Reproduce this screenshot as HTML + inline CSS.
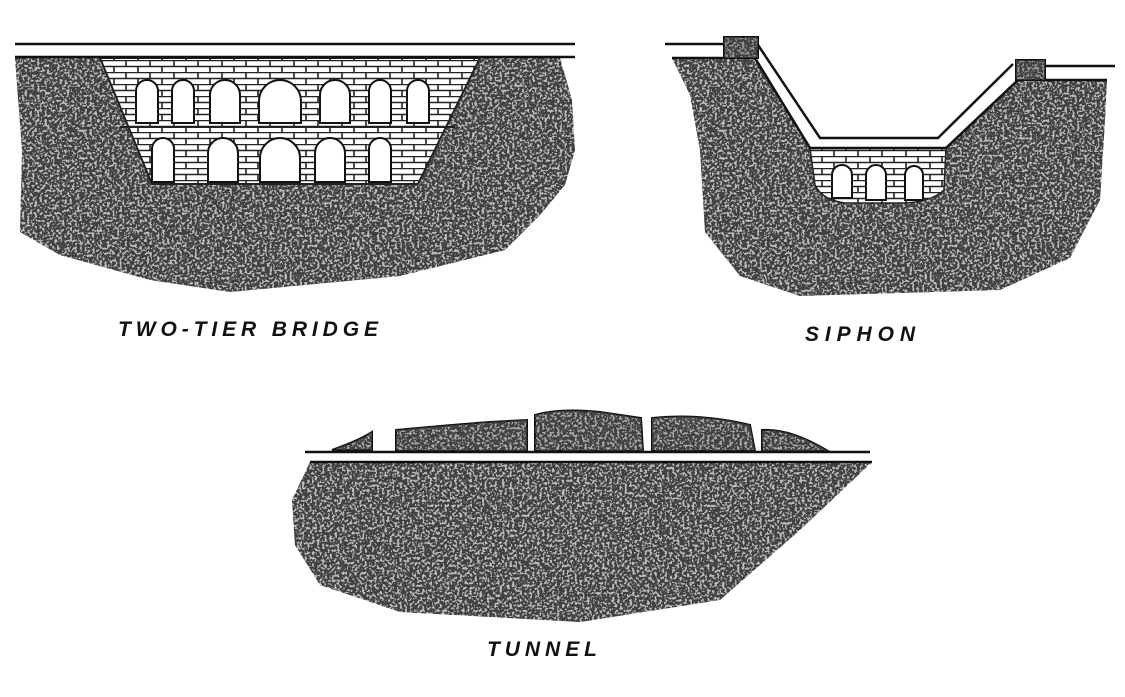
<!DOCTYPE html>
<html><head><style>
html,body{margin:0;padding:0;background:#fff;}
svg{display:block}
text{font-family:"Liberation Sans",sans-serif;font-weight:bold;font-style:italic;font-size:21px;fill:#111}
</style></head><body>
<svg width="1125" height="697" viewBox="0 0 1125 697" xmlns="http://www.w3.org/2000/svg">
<defs>
<filter id="st" filterUnits="userSpaceOnUse" x="0" y="0" width="1125" height="697">
<feTurbulence type="fractalNoise" baseFrequency="0.4" numOctaves="2" seed="4" result="n"/>
<feColorMatrix in="n" type="matrix" values="0 0 0 0 0.05  0 0 0 0 0.05  0 0 0 0 0.05  -14 0 0 0 8.3" result="d"/>
<feComposite in="d" in2="SourceGraphic" operator="in"/>
</filter>
<pattern id="brick" width="24" height="12" patternUnits="userSpaceOnUse">
<rect width="24" height="12" fill="#fff"/>
<path d="M0 0.5H24M0 6.5H24M6 0V6M18 6V12" stroke="#222" stroke-width="1.6"/>
</pattern>
</defs>

<!-- BRIDGE -->
<g>
<path id="bg1" d="M15 58 L560 58 L572 100 L575 150 L565 185 L540 215 L505 250 L400 276 L230 292 L150 280 L60 255 L20 232 L22 150 Z" fill="#5a5a5a" opacity="0.4"/>
<path d="M15 58 L560 58 L572 100 L575 150 L565 185 L540 215 L505 250 L400 276 L230 292 L150 280 L60 255 L20 232 L22 150 Z" fill="#000" filter="url(#st)"/>
<path d="M100 58 L480 58 L418 184 L152 184 Z" fill="url(#brick)" stroke="#222" stroke-width="2"/>
<line x1="120" y1="127" x2="455" y2="127" stroke="#222" stroke-width="2"/>
<g fill="#fff" stroke="#111" stroke-width="2">
<path d="M136 123V91a11 11 0 0 1 22 0V123Z"/>
<path d="M172 123V91a11 11 0 0 1 22 0V123Z"/>
<path d="M210 123V95a15 15 0 0 1 30 0V123Z"/>
<path d="M259 123V101a21 21 0 0 1 42 0V123Z"/>
<path d="M320 123V95a15 15 0 0 1 30 0V123Z"/>
<path d="M369 123V91a11 11 0 0 1 22 0V123Z"/>
<path d="M407 123V91a11 11 0 0 1 22 0V123Z"/>
<path d="M152 182V149a11 11 0 0 1 22 0V182Z"/>
<path d="M208 182V153a15 15 0 0 1 30 0V182Z"/>
<path d="M260 182V158a20 20 0 0 1 40 0V182Z"/>
<path d="M315 182V153a15 15 0 0 1 30 0V182Z"/>
<path d="M369 182V149a11 11 0 0 1 22 0V182Z"/>
</g>
<line x1="15" y1="44" x2="575" y2="44" stroke="#111" stroke-width="2.5"/>
<line x1="15" y1="57" x2="575" y2="57" stroke="#111" stroke-width="2.5"/>
</g>

<!-- SIPHON -->
<g>
<path d="M672 58 L755 58 L810 148 L946 148 L1018 80 L1107 80 L1105 120 L1100 200 L1070 258 L1000 290 L800 296 L740 276 L705 232 L700 150 L690 95 Z" fill="#5a5a5a" opacity="0.4"/>
<path d="M672 58 L755 58 L810 148 L946 148 L1018 80 L1107 80 L1105 120 L1100 200 L1070 258 L1000 290 L800 296 L740 276 L705 232 L700 150 L690 95 Z" fill="#000" filter="url(#st)"/>
<path d="M810 148 L946 148 L944 190 Q930 203 900 203 L845 203 Q822 200 815 185 Z" fill="url(#brick)" stroke="#222" stroke-width="1.5"/>
<g fill="#fff" stroke="#111" stroke-width="2">
<path d="M832 198V175a10 10 0 0 1 20 0V198Z"/>
<path d="M866 200V175a10 10 0 0 1 20 0V200Z"/>
<path d="M905 200V175a9 9 0 0 1 18 0V200Z"/>
</g>
<path d="M758 45 L820 138 L938 138 L1013 64" fill="none" stroke="#111" stroke-width="2.5"/>
<path d="M755 58 L810 148 L946 148 L1018 80" fill="none" stroke="#111" stroke-width="2.5"/>
<line x1="665" y1="44" x2="725" y2="44" stroke="#111" stroke-width="2.5"/>
<line x1="672" y1="58" x2="725" y2="58" stroke="#111" stroke-width="2.5"/>
<line x1="1045" y1="66" x2="1115" y2="66" stroke="#111" stroke-width="2.5"/>
<line x1="1045" y1="80" x2="1107" y2="80" stroke="#111" stroke-width="2.5"/>
<rect x="724" y="37" width="34" height="21" fill="#999" stroke="#111" stroke-width="2"/>
<rect x="1016" y="60" width="29" height="20" fill="#999" stroke="#111" stroke-width="2"/>
<rect x="724" y="37" width="34" height="21" fill="#000" filter="url(#st)"/>
<rect x="1016" y="60" width="29" height="20" fill="#000" filter="url(#st)"/>
</g>

<!-- TUNNEL -->
<g>
<path d="M310 462 L872 462 L800 530 L720 600 L580 622 L400 612 L320 585 L295 545 L292 500 Z" fill="#5a5a5a" opacity="0.4"/>
<path d="M310 462 L872 462 L800 530 L720 600 L580 622 L400 612 L320 585 L295 545 L292 500 Z" fill="#000" filter="url(#st)"/>
<g stroke="#111" stroke-width="2" fill="#aaa">
<path d="M332 450 Q360 440 372 432 L372 450 Z"/>
<path d="M396 451 L396 430 Q450 425 490 422 L527 420 L527 451 Z"/>
<path d="M535 451 L535 415 Q560 408 600 412 L641 418 L643 451 Z"/>
<path d="M652 451 L652 418 Q700 413 750 425 L755 451 Z"/>
<path d="M762 451 L762 430 Q790 428 828 451 Z"/>
</g>
<g fill="#000" filter="url(#st)">
<path d="M332 450 Q360 440 372 432 L372 450 Z"/>
<path d="M396 451 L396 430 Q450 425 490 422 L527 420 L527 451 Z"/>
<path d="M535 451 L535 415 Q560 408 600 412 L641 418 L643 451 Z"/>
<path d="M652 451 L652 418 Q700 413 750 425 L755 451 Z"/>
<path d="M762 451 L762 430 Q790 428 828 451 Z"/>
</g>
<line x1="305" y1="452" x2="870" y2="452" stroke="#111" stroke-width="2.5"/>
<line x1="310" y1="462" x2="872" y2="462" stroke="#111" stroke-width="2.5"/>
</g>

<text x="118" y="336" textLength="260" lengthAdjust="spacing">TWO-TIER BRIDGE</text>
<text x="805" y="341" textLength="110" lengthAdjust="spacing">SIPHON</text>
<text x="487" y="656" textLength="110" lengthAdjust="spacing">TUNNEL</text>
</svg>
</body></html>
